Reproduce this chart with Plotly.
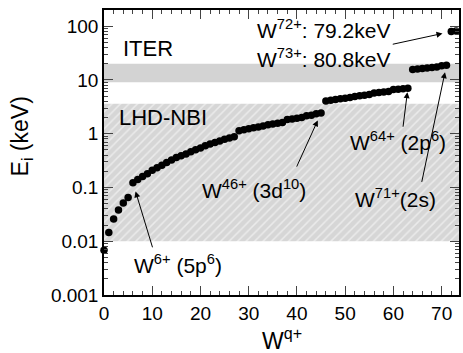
import math
import plotly.graph_objects as go

# Charge state q of W^{q+}
charge = list(range(0, 74))
# Ionization energy E_i (keV)
energy_keV = [0.0068, 0.0145, 0.0260, 0.0382, 0.0516, 0.0648, 0.1220, 0.1412, 0.1602, 0.1790,
              0.2089, 0.2316, 0.2582, 0.2907, 0.3253, 0.3619, 0.3879, 0.4207, 0.4621, 0.5026,
              0.5434, 0.5945, 0.6406, 0.6856, 0.7341, 0.7844, 0.8334, 0.8814, 1.1322, 1.1800,
              1.2304, 1.2834, 1.3351, 1.3868, 1.4599, 1.5124, 1.5691, 1.6217, 1.8298, 1.8829,
              1.9406, 1.9948, 2.1491, 2.2100, 2.3545, 2.4141, 4.057, 4.180, 4.309, 4.446,
              4.578, 4.709, 4.927, 5.063, 5.209, 5.348, 5.719, 5.840, 5.970, 6.093,
              6.596, 6.735, 6.880, 7.000, 15.566, 15.896, 16.252, 16.608, 17.085, 17.425,
              18.258, 18.636, 79.215, 80.760]

x_range = [0, 73.6]
iter_band = [9.0, 20.0]
lhd_band = [0.01, 3.6]

y_tickvals = [0.001, 0.01, 0.1, 1, 10, 100]
y_ticktext = ["0.001", "0.01", "0.1", "1", "10", "100"]

FONT = "Liberation Sans, Arial, sans-serif"

L, R, T, B = 104, 2, 10, 58
W, H = 463, 353
pw, ph = W - L - R, H - T - B

def px2paper(px, py):
    return (px - L) / pw, (H - B - py) / ph

fig = go.Figure()

# LHD-NBI hatched band
fig.add_trace(go.Scatter(
    x=[x_range[0], x_range[1], x_range[1], x_range[0], x_range[0]],
    y=[lhd_band[0], lhd_band[0], lhd_band[1], lhd_band[1], lhd_band[0]],
    mode="lines", line=dict(width=0), fill="toself",
    fillcolor="#d6d6d6",
    fillpattern=dict(shape="/", bgcolor="#d6d6d6", fgcolor="white", size=6, solidity=0.25),
    hoverinfo="skip", showlegend=False))

# ITER band
fig.add_trace(go.Scatter(
    x=[x_range[0], x_range[1], x_range[1], x_range[0], x_range[0]],
    y=[iter_band[0], iter_band[0], iter_band[1], iter_band[1], iter_band[0]],
    mode="lines", line=dict(width=0), fill="toself", fillcolor="#d3d3d3",
    hoverinfo="skip", showlegend=False))

fig.add_trace(go.Scatter(
    x=charge, y=energy_keV, mode="markers",
    marker=dict(color="black", size=7.5, line=dict(width=0)),
    cliponaxis=False, showlegend=False))

def ly(q):
    return math.log10(energy_keV[q])

ann = []

def text(t, px, py, size=21):
    xp, yp = px2paper(px, py)
    ann.append(dict(text=t, x=xp, y=yp, xref="paper", yref="paper",
                    xanchor="left", yanchor="middle", showarrow=False,
                    font=dict(family=FONT, size=size, color="black")))

def arrow(q, ax, ay, standoff):
    ann.append(dict(text="", x=charge[q], y=ly(q), xref="x", yref="y",
                    ax=ax, ay=ay, showarrow=True, arrowhead=2, arrowsize=1.2,
                    arrowwidth=1, arrowcolor="black", standoff=standoff))

text("ITER", 121, 49, 22)
text("LHD-NBI", 117, 118, 22)
text("W<sup>72+</sup>: 79.2keV", 256, 29)
text("W<sup>73+</sup>: 80.8keV", 256, 58)
text("W<sup>64+</sup> (2p<sup>6</sup>)", 349, 141)
text("W<sup>46+</sup> (3d<sup>10</sup>)", 201, 189)
text("W<sup>71+</sup>(2s)", 354, 198)
text("W<sup>6+</sup> (5p<sup>6</sup>)", 132, 264)

arrow(72, -60, 13, 9)
arrow(63, -5, 40, 4)
arrow(45, -25, 55, 8)
arrow(71, -25, 118, 7)
arrow(6, 20, 66, 9)

# axis titles
xp, yp = px2paper(21, 136)
ann.append(dict(text="E<sub>i</sub> (keV)", x=xp, y=yp, xref="paper", yref="paper",
                xanchor="center", yanchor="middle",
                showarrow=False, textangle=-90, font=dict(family=FONT, size=23, color="black")))
xp, yp = px2paper(282, 339)
ann.append(dict(text="W<sup>q+</sup>", x=0.5, y=yp, xref="paper", yref="paper",
                xanchor="center", yanchor="middle",
                showarrow=False, font=dict(family=FONT, size=23, color="black")))

fig.update_layout(
    width=W, height=H, margin=dict(l=L, r=R, t=T, b=B, pad=0),
    paper_bgcolor="white", plot_bgcolor="white",
    font=dict(family=FONT, size=19, color="black"),
    annotations=ann,
    xaxis=dict(range=x_range, dtick=10, tick0=0, ticks="inside", ticklen=9, tickwidth=1.2,
               showline=True, linecolor="black", linewidth=1.5, mirror="allticks",
               showgrid=False, zeroline=False,
               minor=dict(dtick=2, ticks="inside", ticklen=4, tickwidth=1.2, showgrid=False),
               tickfont=dict(family=FONT, size=19)),
    yaxis=dict(type="log", range=[-3, 2.3], tickvals=y_tickvals, ticktext=y_ticktext,
               ticks="inside", ticklen=9, tickwidth=1.2,
               showline=True, linecolor="black", linewidth=1.5, mirror="allticks",
               showgrid=False, zeroline=False,
               minor=dict(dtick="D1", ticks="inside", ticklen=4, tickwidth=1.2, showgrid=False),
               tickfont=dict(family=FONT, size=19)),
)

fig.write_html("out.html")
